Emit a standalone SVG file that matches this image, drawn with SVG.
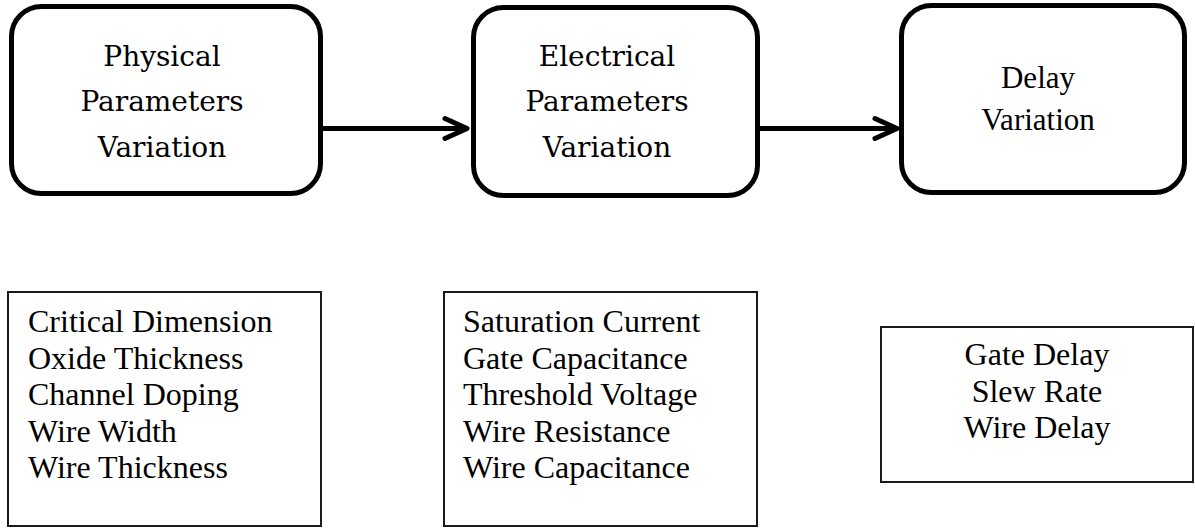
<svg xmlns="http://www.w3.org/2000/svg" width="1195" height="529" viewBox="0 0 1195 529">
  <style>
    .rbox { fill: #ffffff; stroke: #000000; stroke-width: 5; }
    .sbox { fill: #ffffff; stroke: #1a1a1a; stroke-width: 2; }
    .pal { font-family: "DejaVu Serif", "Liberation Serif", serif; font-size: 28px; fill: #000; text-anchor: middle; }
    .tms { font-family: "Liberation Serif", "Times New Roman", serif; font-size: 31px; fill: #000; text-anchor: middle; }
    .lst { font-family: "Liberation Serif", "Times New Roman", serif; font-size: 32px; fill: #000; }
    .conn { stroke: #000; stroke-width: 5; fill: none; }
  </style>
  <defs>
    <marker id="chev" markerUnits="userSpaceOnUse" viewBox="0 0 30 26" markerWidth="30" markerHeight="26" refX="25" refY="13" orient="auto" overflow="visible">
      <path d="M3,3 L25,13 L3,23" fill="none" stroke="#000" stroke-width="5" stroke-linecap="round" stroke-linejoin="round"/>
    </marker>
  </defs>
  <rect width="1195" height="529" fill="#ffffff"/>

  <g id="connectors">
    <line class="conn" x1="321" y1="128.5" x2="467" y2="128.5" marker-end="url(#chev)"/>
    <line class="conn" x1="758" y1="128.5" x2="897" y2="128.5" marker-end="url(#chev)"/>
  </g>

  <g id="node-physical">
    <rect class="rbox" x="11.5" y="6.5" width="309" height="187" rx="30" ry="30"/>
    <text class="pal" x="162" y="66">Physical</text>
    <text class="pal" x="162" y="111">Parameters</text>
    <text class="pal" x="162" y="157">Variation</text>
  </g>

  <g id="node-electrical">
    <rect class="rbox" x="473.5" y="7.5" width="284" height="188" rx="30" ry="30"/>
    <text class="pal" x="607" y="66">Electrical</text>
    <text class="pal" x="607" y="111">Parameters</text>
    <text class="pal" x="607" y="157">Variation</text>
  </g>

  <g id="node-delay">
    <rect class="rbox" x="901.5" y="5.5" width="283" height="187" rx="30" ry="30"/>
    <text class="tms" x="1038" y="88">Delay</text>
    <text class="tms" x="1038" y="130">Variation</text>
  </g>

  <g id="list-physical">
    <rect class="sbox" x="8" y="292" width="313" height="234"/>
    <text class="lst" x="28" y="332">Critical Dimension</text>
    <text class="lst" x="28" y="368.5">Oxide Thickness</text>
    <text class="lst" x="28" y="405">Channel Doping</text>
    <text class="lst" x="28" y="441.5">Wire Width</text>
    <text class="lst" x="28" y="478">Wire Thickness</text>
  </g>

  <g id="list-electrical">
    <rect class="sbox" x="444" y="292" width="313" height="234"/>
    <text class="lst" x="463" y="332">Saturation Current</text>
    <text class="lst" x="463" y="368.5">Gate Capacitance</text>
    <text class="lst" x="463" y="405">Threshold Voltage</text>
    <text class="lst" x="463" y="441.5">Wire Resistance</text>
    <text class="lst" x="463" y="478">Wire Capacitance</text>
  </g>

  <g id="list-delay">
    <rect class="sbox" x="881" y="327" width="312" height="155"/>
    <text class="lst" x="1037" y="365" text-anchor="middle">Gate Delay</text>
    <text class="lst" x="1037" y="401.5" text-anchor="middle">Slew Rate</text>
    <text class="lst" x="1037" y="438" text-anchor="middle">Wire Delay</text>
  </g>
</svg>
